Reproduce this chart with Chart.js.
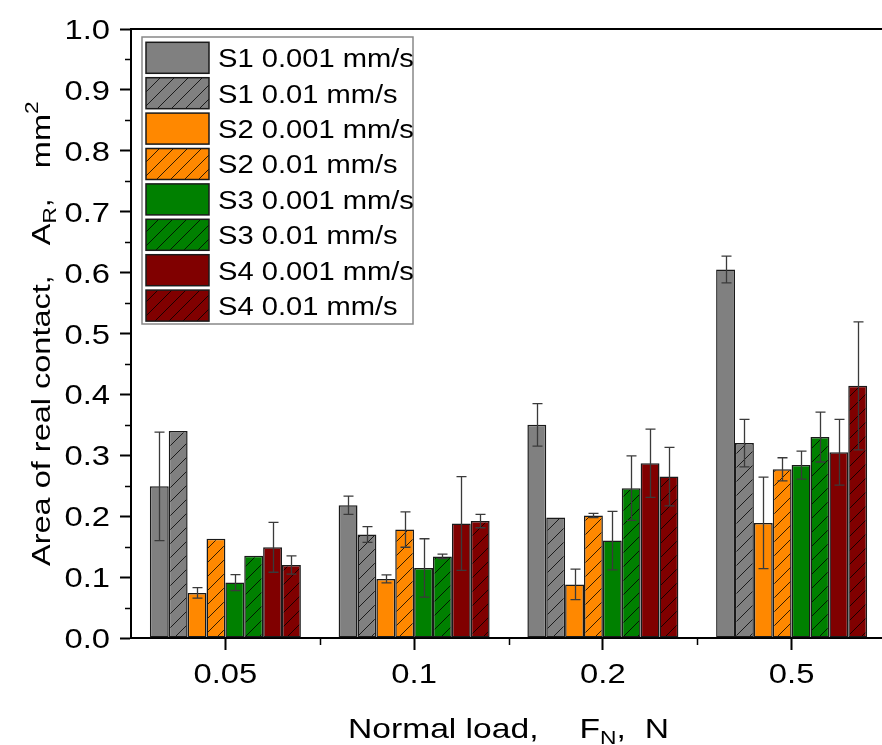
<!DOCTYPE html>
<html><head><meta charset="utf-8">
<script src="https://cdn.jsdelivr.net/npm/chart.js@4.4.0/dist/chart.umd.min.js"></script>
<style>html,body{margin:0;padding:0;overflow:hidden;background:#fff}</style>
</head><body>
<canvas id="c" width="886" height="745"></canvas>
<script>
// ---------------- data ----------------
const categories = ['0.05', '0.1', '0.2', '0.5'];
const yTickLabels = ['0.0','0.1','0.2','0.3','0.4','0.5','0.6','0.7','0.8','0.9','1.0'];
const seriesLabels = ['S1 0.001 mm/s','S1 0.01 mm/s','S2 0.001 mm/s','S2 0.01 mm/s',
                      'S3 0.001 mm/s','S3 0.01 mm/s','S4 0.001 mm/s','S4 0.01 mm/s'];
const s1_0001 = [0.249, 0.218, 0.350, 0.605];
const s1_001  = [0.340, 0.170, 0.198, 0.320];
const s2_0001 = [0.074, 0.097, 0.088, 0.189];
const s2_001  = [0.163, 0.178, 0.201, 0.277];
const s3_0001 = [0.091, 0.115, 0.160, 0.284];
const s3_001  = [0.135, 0.134, 0.246, 0.330];
const s4_0001 = [0.149, 0.188, 0.287, 0.305];
const s4_001  = [0.120, 0.192, 0.265, 0.414];
const e1_0001 = [0.089, 0.015, 0.035, 0.022];
const e1_001  = [0, 0.013, 0, 0.039];
const e2_0001 = [0.0086, 0.0066, 0.025, 0.075];
const e2_001  = [0, 0.029, 0.0035, 0.019];
const e3_0001 = [0.013, 0.048, 0.048, 0.023];
const e3_001  = [0, 0.0036, 0.053, 0.041];
const e4_0001 = [0.041, 0.077, 0.056, 0.054];
const e4_001  = [0.015, 0.011, 0.048, 0.105];

const seriesValues = [s1_0001, s1_001, s2_0001, s2_001, s3_0001, s3_001, s4_0001, s4_001];
const seriesErrors = [e1_0001, e1_001, e2_0001, e2_001, e3_0001, e3_001, e4_0001, e4_001];
const seriesColors = ['#808080','#808080','#FF8800','#FF8800','#008000','#008000','#800000','#800000'];
const seriesHatched = [false,true,false,true,false,true,false,true];

// ---------------- styling ----------------
const FONT = '"Liberation Sans", Arial, sans-serif';

function hatch(color){
  const P = 14;
  const c = document.createElement('canvas'); c.width = P; c.height = P;
  const g = c.getContext('2d');
  g.fillStyle = color; g.fillRect(0,0,P,P);
  g.strokeStyle = 'rgba(0,0,0,0.8)'; g.lineWidth = 1;
  g.beginPath();
  g.moveTo(-1,P+1); g.lineTo(P+1,-1);
  g.moveTo(-1,1); g.lineTo(1,-1);
  g.moveTo(P-1,P+1); g.lineTo(P+1,P-1);
  g.stroke();
  return g.createPattern(c,'repeat');
}

const datasets = seriesValues.map((vals,i)=>({
  label: seriesLabels[i],
  data: vals,
  backgroundColor: seriesHatched[i] ? hatch(seriesColors[i]) : seriesColors[i],
  borderColor: '#1a1a1a',
  borderWidth: 1.5,
  borderSkipped: false,
  barPercentage: 1.0,
  categoryPercentage: 0.8
}));

function stretchText(ctx, t, x, y, sx, align){
  ctx.save();
  ctx.translate(x,y); ctx.scale(sx,1);
  ctx.textAlign = align || 'left';
  ctx.fillText(t,0,0);
  ctx.restore();
}
function drawRich(ctx, segs, x, y, sx){
  let cx = x;
  for (const s of segs){
    if (s.gap){ cx += s.gap; continue; }
    ctx.font = s.size + 'px ' + FONT;
    stretchText(ctx, s.t, cx, y + (s.dy||0), sx, 'left');
    cx += ctx.measureText(s.t).width * sx;
  }
  return cx;
}

const decor = {
  id: 'decor',
  afterDatasetsDraw(chart){
    const ctx = chart.ctx, ys = chart.scales.y;
    ctx.save();
    ctx.strokeStyle = '#3a3a3a'; ctx.lineWidth = 1.3;
    seriesValues.forEach((vals,i)=>{
      const meta = chart.getDatasetMeta(i);
      vals.forEach((v,j)=>{
        const e = seriesErrors[i][j];
        if (!e) return;
        const bar = meta.data[j];
        const x = Math.round(bar.x) + 0.5;
        const yt = ys.getPixelForValue(v+e), yb = ys.getPixelForValue(v-e);
        ctx.beginPath();
        ctx.moveTo(x,yt); ctx.lineTo(x,yb);
        ctx.moveTo(x-5,yt); ctx.lineTo(x+5,yt);
        ctx.moveTo(x-5,yb); ctx.lineTo(x+5,yb);
        ctx.stroke();
      });
    });
    ctx.restore();
  },
  afterDraw(chart){
    const ctx = chart.ctx, a = chart.chartArea;
    const xs = chart.scales.x, ys = chart.scales.y;
    ctx.save();
    // top frame line
    ctx.strokeStyle = '#000'; ctx.lineWidth = 2;
    ctx.beginPath(); ctx.moveTo(a.left-1, a.top); ctx.lineTo(a.right+2, a.top); ctx.stroke();
    // minor ticks
    ctx.lineWidth = 1.5;
    ctx.beginPath();
    for (let k=0;k<10;k++){
      const y = Math.round(ys.getPixelForValue(0.05 + 0.1*k)) + 0.5;
      ctx.moveTo(a.left-6, y); ctx.lineTo(a.left, y);
    }
    for (let i=0;i<categories.length-1;i++){
      const x = Math.round((xs.getPixelForValue(i)+xs.getPixelForValue(i+1))/2) + 0.5;
      ctx.moveTo(x, a.bottom); ctx.lineTo(x, a.bottom+7);
    }
    ctx.stroke();
    // tick labels
    ctx.fillStyle = '#000';
    ctx.font = '28px ' + FONT;
    ctx.textBaseline = 'alphabetic';
    yTickLabels.forEach((t,k)=>{
      const y = ys.getPixelForValue(k/10);
      stretchText(ctx, t, a.left-21, y+10, 1.17, 'right');
    });
    categories.forEach((t,i)=>{
      const x = xs.getPixelForValue(i);
      stretchText(ctx, t, x, a.bottom+45, 1.17, 'center');
    });
    // x title
    drawRich(ctx, [
      {t:'Normal load,', size:28},
      {gap:41},
      {t:'F', size:28},
      {t:'N', size:19, dy:6},
      {t:',', size:28},
      {gap:19},
      {t:'N', size:28}
    ], 348, 738, 1.2);
    // y title
    ctx.save();
    ctx.translate(50, 566);
    ctx.rotate(-Math.PI/2);
    drawRich(ctx, [
      {t:'Area of real contact,', size:26},
      {gap:30},
      {t:'A', size:26},
      {t:'R', size:18, dy:6},
      {t:',', size:26},
      {gap:30},
      {t:'mm', size:26},
      {t:'2', size:18, dy:-12}
    ], 0, 0, 1.25);
    ctx.restore();
    // legend
    const LX = 142, LY = 37, LW = 271, LH = 287, ROW = 35.4;
    ctx.fillStyle = '#fff';
    ctx.fillRect(LX, LY, LW, LH);
    ctx.strokeStyle = '#888'; ctx.lineWidth = 1.5;
    ctx.strokeRect(LX, LY, LW, LH);
    chart.data.datasets.forEach((ds,i)=>{
      const sy = LY + 5.3 + ROW*i;
      ctx.fillStyle = ds.backgroundColor;
      ctx.fillRect(LX+4, sy, 63, 31);
      ctx.strokeStyle = '#1a1a1a'; ctx.lineWidth = 1.5;
      ctx.strokeRect(LX+4, sy, 63, 31);
      ctx.fillStyle = '#000';
      ctx.font = '26px ' + FONT;
      stretchText(ctx, ds.label, LX+76, sy + 15.5 + 9.3, 1.12, 'left');
    });
    ctx.restore();
  }
};

new Chart(document.getElementById('c'), {
  type: 'bar',
  data: { labels: categories, datasets },
  options: {
    responsive: false,
    animation: false,
    layout: { padding: { top: 29, left: 0, right: 0, bottom: 0 } },
    plugins: { legend: { display: false }, tooltip: { enabled: false } },
    scales: {
      x: {
        type: 'category',
        offset: true,
        grid: { display: true, drawOnChartArea: false, drawTicks: true, tickLength: 12,
                tickWidth: 2, tickColor: '#000', offset: false },
        border: { display: true, color: '#000', width: 2 },
        ticks: { display: false },
        afterFit(s){ s.height = 107; }
      },
      y: {
        min: 0, max: 1.0,
        grid: { display: true, drawOnChartArea: false, drawTicks: true, tickLength: 11,
                tickWidth: 2, tickColor: '#000' },
        border: { display: true, color: '#000', width: 2 },
        ticks: { display: false, stepSize: 0.1 },
        afterFit(s){ s.width = 131; }
      }
    }
  },
  plugins: [decor]
});
</script>
</body></html>
